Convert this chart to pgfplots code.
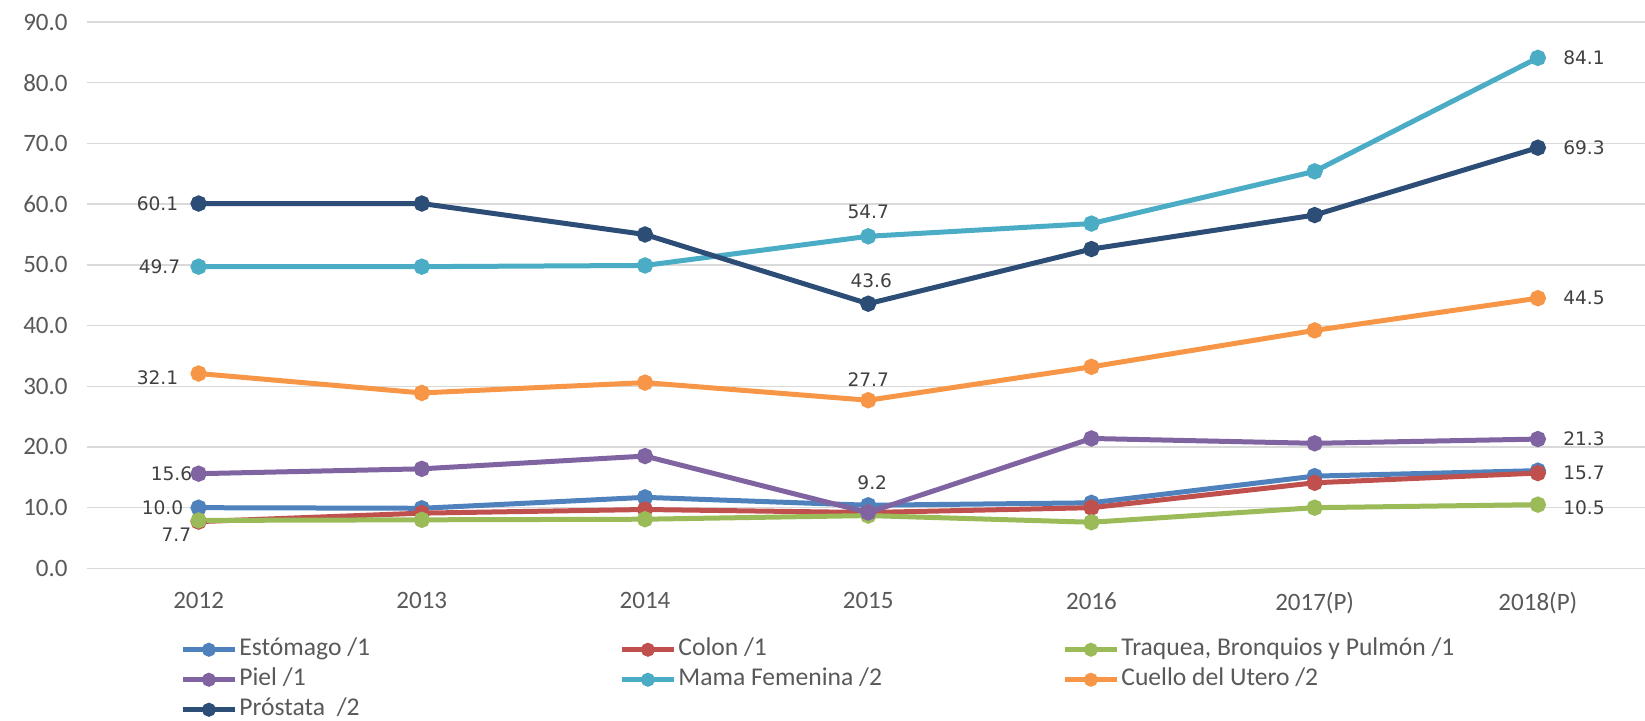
\documentclass[border=0pt]{standalone}
\usepackage{fontspec}
\setmainfont{Carlito}
\newfontfamily\lblfont{DejaVu Sans}
\usepackage{pgfplots}
\pgfplotsset{compat=1.18}
\definecolor{cEst}{HTML}{4F81BD}
\definecolor{cCol}{HTML}{C0504D}
\definecolor{cTra}{HTML}{9BBB59}
\definecolor{cPie}{HTML}{8064A2}
\definecolor{cMam}{HTML}{4BACC6}
\definecolor{cCue}{HTML}{F79646}
\definecolor{cPro}{HTML}{2C4D75}
\definecolor{gridgray}{HTML}{D9D9D9}
\definecolor{tickgray}{HTML}{595959}
\definecolor{lblgray}{HTML}{404040}
\tikzset{lbl/.style={font=\lblfont\fontsize{9.3}{11}\selectfont, text=lblgray, inner sep=0pt}}
\begin{document}
\begin{tikzpicture}
\begin{axis}[
  scale only axis, width=779pt, height=273.2pt,
  xmin=-0.5, xmax=6.48, ymin=0, ymax=90,
  xtick={0,...,6},
  xticklabels={2012,2013,2014,2015,2016,2017(P),2018(P)},
  ytick={0,10,...,90},
  yticklabel={\pgfmathprintnumber[assume math mode=true,fixed,fixed zerofill,precision=1]{\tick}},
  ymajorgrids, grid style={color=gridgray, line width=0.75pt},
  axis line style={draw=none}, major tick length=0pt,
  tick label style={font=\fontsize{12.5}{14}\selectfont, text=tickgray},
  xticklabel style={anchor=north, inner sep=0pt, yshift=-11.7pt},
  yticklabel style={anchor=east, inner sep=0pt, xshift=-9.5pt},
  clip=false,
  every axis plot/.append style={line width=2.5pt, mark=*, mark size=2.8pt, mark options={solid}},
  legend columns=3,
  legend cell align=left,
  legend style={at={(0.0597,-0.1262)}, anchor=north west, draw=none, fill=none,
    inner sep=0pt, row sep=3pt, font=\fontsize{12.8}{14}\selectfont, text=tickgray,
    nodes={inner sep=0pt, text height=9pt, text depth=3pt},
    /tikz/every odd column/.append style={column sep=1pt}},
  legend image code/.code={\draw[mark repeat=2,mark phase=2,mark size=2.2pt] plot coordinates {(0pt,0pt) (13pt,0pt) (26pt,0pt)};},
]
\addplot[color=cEst] coordinates {(0,10.0) (1,9.9) (2,11.7) (3,10.4) (4,10.8) (5,15.2) (6,16.1)};
\addlegendentry{\makebox[190pt][l]{Estómago /1}}
\addplot[color=cCol] coordinates {(0,7.7) (1,9.1) (2,9.7) (3,9.2) (4,10.0) (5,14.1) (6,15.7)};
\addlegendentry{\makebox[192pt][l]{Colon /1}}
\addplot[color=cTra] coordinates {(0,7.9) (1,8.0) (2,8.1) (3,8.7) (4,7.6) (5,10.0) (6,10.5)};
\addlegendentry{\makebox[190pt][l]{Traquea, Bronquios y Pulmón /1}}
\addplot[color=cPie] coordinates {(0,15.6) (1,16.4) (2,18.5) (3,9.2) (4,21.4) (5,20.6) (6,21.3)};
\addlegendentry{\makebox[190pt][l]{Piel /1}}
\addplot[color=cMam] coordinates {(0,49.7) (1,49.7) (2,49.9) (3,54.7) (4,56.8) (5,65.4) (6,84.1)};
\addlegendentry{\makebox[192pt][l]{Mama Femenina /2}}
\addplot[color=cCue] coordinates {(0,32.1) (1,28.9) (2,30.6) (3,27.7) (4,33.2) (5,39.2) (6,44.5)};
\addlegendentry{\makebox[190pt][l]{Cuello del Utero /2}}
\addplot[color=cPro] coordinates {(0,60.1) (1,60.1) (2,55.0) (3,43.6) (4,52.6) (5,58.2) (6,69.3)};
\addlegendentry{\makebox[190pt][l]{Próstata \ /2}}
% data labels, 2012
\node[lbl, anchor=east, xshift=-10pt] at (axis cs:0,60.1) {60.1};
\node[lbl, anchor=east, xshift=-9pt] at (axis cs:0,49.7) {49.7};
\node[lbl, anchor=east, xshift=-10pt, yshift=-2pt] at (axis cs:0,32.1) {32.1};
\node[lbl, anchor=east, xshift=-3pt] at (axis cs:0,15.6) {15.6};
\node[lbl, anchor=east, xshift=-7.5pt] at (axis cs:0,10.0) {10.0};
\node[lbl, anchor=east, xshift=-3.5pt, yshift=-6.5pt] at (axis cs:0,7.7) {7.7};
% 2015
\node[lbl, yshift=12pt] at (axis cs:3,54.7) {54.7};
\node[lbl, yshift=11.7pt, xshift=1.5pt] at (axis cs:3,43.6) {43.6};
\node[lbl, yshift=10.5pt] at (axis cs:3,27.7) {27.7};
\node[lbl, yshift=15pt, xshift=2pt] at (axis cs:3,9.2) {9.2};
% 2018
\node[lbl, anchor=west, xshift=12.5pt] at (axis cs:6,84.1) {84.1};
\node[lbl, anchor=west, xshift=12.5pt] at (axis cs:6,69.3) {69.3};
\node[lbl, anchor=west, xshift=12.5pt] at (axis cs:6,44.5) {44.5};
\node[lbl, anchor=west, xshift=12.5pt] at (axis cs:6,21.3) {21.3};
\node[lbl, anchor=west, xshift=12.5pt] at (axis cs:6,15.7) {15.7};
\node[lbl, anchor=west, xshift=12.5pt, yshift=-1.5pt] at (axis cs:6,10.5) {10.5};
\coordinate (bl) at (rel axis cs:0,0);
\end{axis}
\pgfresetboundingbox
\path (bl) ++(-43.5pt,-75.9pt) rectangle ++(822.5pt,360.1pt);
\end{tikzpicture}
\end{document}
